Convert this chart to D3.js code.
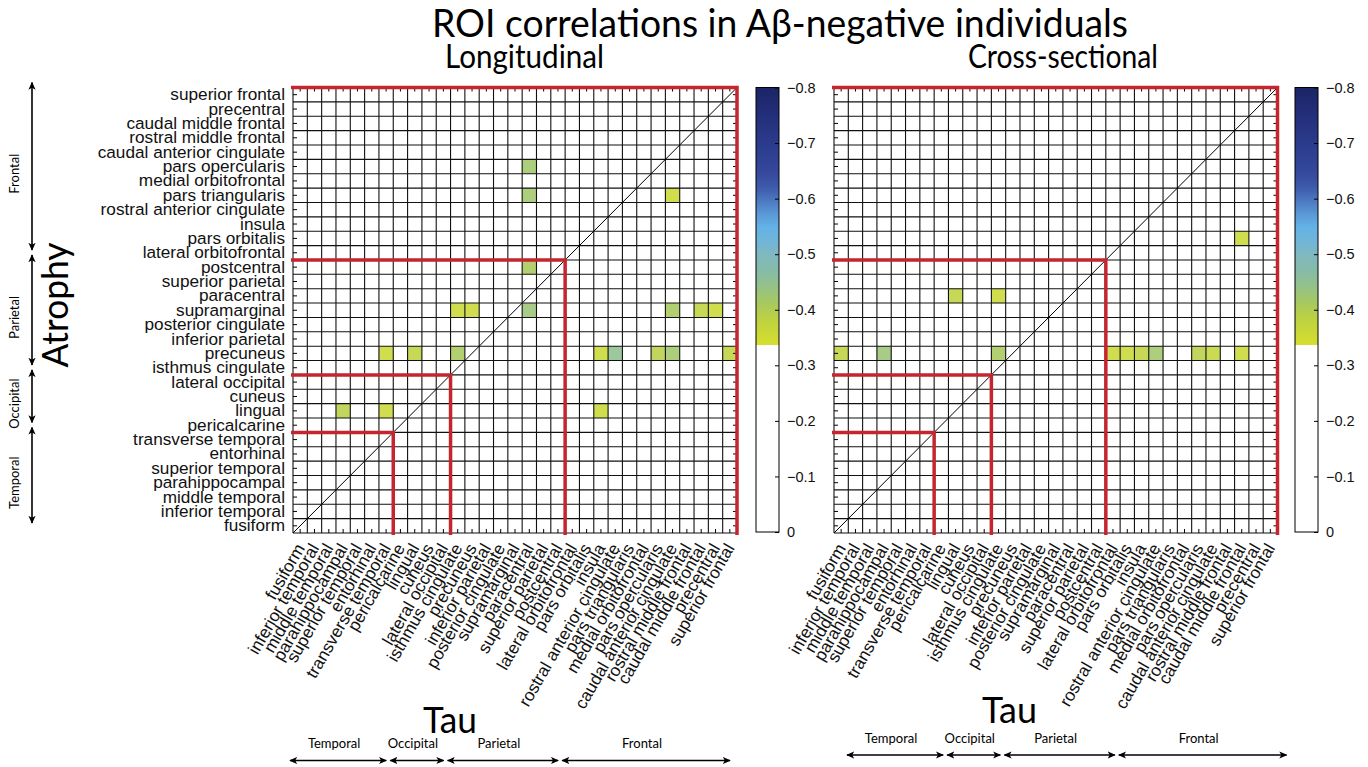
<!DOCTYPE html>
<html><head><meta charset="utf-8">
<script src="https://cdn.jsdelivr.net/npm/d3@7"></script>
<style>body{margin:0;background:#fff} svg{display:block}</style>
</head><body><svg id="c" width="1368" height="767"></svg>
<script>
// ---------------- DATA ----------------
const atrophyRows = ["superior frontal","precentral","caudal middle frontal","rostral middle frontal","caudal anterior cingulate","pars opercularis","medial orbitofrontal","pars triangularis","rostral anterior cingulate","insula","pars orbitalis","lateral orbitofrontal","postcentral","superior parietal","paracentral","supramarginal","posterior cingulate","inferior parietal","precuneus","isthmus cingulate","lateral occipital","cuneus","lingual","pericalcarine","transverse temporal","entorhinal","superior temporal","parahippocampal","middle temporal","inferior temporal","fusiform"];
const tauCols = atrophyRows.slice().reverse();
const lobes = ["Frontal","Parietal","Occipital","Temporal"];
const lobeSizes = [12,8,4,7];
// [atrophy row, tau column, correlation]
const longitudinal = [
  ["pars opercularis","paracentral",-0.42],
  ["pars triangularis","paracentral",-0.42],
  ["pars triangularis","caudal anterior cingulate",-0.36],
  ["postcentral","paracentral",-0.41],
  ["supramarginal","isthmus cingulate",-0.36],
  ["supramarginal","precuneus",-0.36],
  ["supramarginal","paracentral",-0.43],
  ["supramarginal","caudal anterior cingulate",-0.41],
  ["supramarginal","caudal middle frontal",-0.38],
  ["supramarginal","precentral",-0.36],
  ["precuneus","transverse temporal",-0.36],
  ["precuneus","lingual",-0.38],
  ["precuneus","isthmus cingulate",-0.41],
  ["precuneus","insula",-0.36],
  ["precuneus","rostral anterior cingulate",-0.45],
  ["precuneus","pars opercularis",-0.39],
  ["precuneus","caudal anterior cingulate",-0.42],
  ["precuneus","superior frontal",-0.38],
  ["lingual","parahippocampal",-0.39],
  ["lingual","transverse temporal",-0.36],
  ["lingual","insula",-0.36]
];
const crossSectional = [
  ["pars orbitalis","caudal middle frontal",-0.36],
  ["paracentral","lingual",-0.38],
  ["paracentral","isthmus cingulate",-0.36],
  ["precuneus","fusiform",-0.38],
  ["precuneus","parahippocampal",-0.43],
  ["precuneus","isthmus cingulate",-0.41],
  ["precuneus","lateral orbitofrontal",-0.36],
  ["precuneus","pars orbitalis",-0.36],
  ["precuneus","insula",-0.38],
  ["precuneus","rostral anterior cingulate",-0.42],
  ["precuneus","pars opercularis",-0.39],
  ["precuneus","caudal anterior cingulate",-0.37],
  ["precuneus","caudal middle frontal",-0.36]
];
const cbTicks = [-0.8,-0.7,-0.6,-0.5,-0.4,-0.3,-0.2,-0.1,0];
const cbThreshold = -0.337;
const cmapValues = [-0.8,-0.75,-0.7,-0.65,-0.62,-0.6,-0.57,-0.55,-0.52,-0.5,-0.47,-0.44,-0.41,-0.38,-0.337];
const cmapColors = ["#1b2466","#232f7a","#2b3b8c","#34479b","#3e5aab","#4a74be","#5c9bd8","#63b1e6","#72b6d6","#7fb8c0","#86bba8","#95c286","#a9c95c","#bfd23f","#d6df2e"];

// ---------------- DRAW ----------------
const svg = d3.select("#c");
const Y0 = 87.5, Y1 = 533;
const cmap = d3.scaleLinear().domain(cmapValues).range(cmapColors).interpolate(d3.interpolateRgb).clamp(true);
const color = v => v > cbThreshold ? "#ffffff" : cmap(v);
const RED = "#c3262e";
const myriad = "Lato, 'Open Sans', sans-serif";
const helv = "'Liberation Sans', Arial, sans-serif";
const LBL = 17.2;

const defs = svg.append("defs");
defs.append("marker").attr("id","ah").attr("viewBox","0 0 10 10").attr("refX",9).attr("refY",5)
  .attr("markerUnits","userSpaceOnUse").attr("markerWidth",8).attr("markerHeight",8)
  .attr("orient","auto-start-reverse")
  .append("path").attr("d","M0,0.5 L10,5 L0,9.5 L2.5,5 Z").attr("fill","#000");

function fitText(sel, x0, x1){ sel.attr("textLength", x1-x0).attr("lengthAdjust","spacingAndGlyphs"); }

// title
svg.append("text").attr("x",432).attr("y",37).attr("font-family",myriad).attr("font-size",38)
  .text("ROI correlations in Aβ-negative individuals").call(fitText,432,1128);

const panels = [
  {title:"Longitudinal", data:longitudinal, x0:293, x1:737, showY:true, cb:756, titleX:[445,604],
   tauX:[423,477], tauY:733, shift:-5, arrowY:760.5, labelY:747.5},
  {title:"Cross-sectional", data:crossSectional, x0:834, x1:1277.5, showY:false, cb:1295, titleX:[968,1158],
   tauX:[982,1037], tauY:723, shift:11, arrowY:755, labelY:742.5}
];

// lobe boundaries (cumulative counts from top)
const lobeStart = []; lobeSizes.reduce((a,n,i)=>{lobeStart[i]=a; return a+n;},0);

panels.forEach(p=>{
  const g = svg.append("g");
  const x = d3.scaleBand().domain(tauCols).range([p.x0,p.x1]);
  const y = d3.scaleBand().domain(atrophyRows).range([Y0,Y1]);
  const bw = x.bandwidth(), bh = y.bandwidth();
  const N = tauCols.length;

  // cells
  g.append("g").selectAll("rect").data(p.data).join("rect")
    .attr("x", d=>x(d[1])).attr("y", d=>y(d[0])).attr("width",bw).attr("height",bh)
    .attr("fill", d=>color(d[2])).attr("fill-opacity",0.88);

  // grid
  const gx = d3.range(N+1).map(i => i<N ? x(tauCols[i]) : p.x1);
  const gy = d3.range(N+1).map(i => i<N ? y(atrophyRows[i]) : Y1);
  g.append("g").selectAll("line.v").data(gx).join("line")
    .attr("x1",d=>d).attr("x2",d=>d).attr("y1",Y0).attr("y2",Y1).attr("stroke","#111").attr("stroke-width",1.1);
  g.append("g").selectAll("line.h").data(gy).join("line")
    .attr("y1",d=>d).attr("y2",d=>d).attr("x1",p.x0).attr("x2",p.x1).attr("stroke","#111").attr("stroke-width",1.1);

  // inward ticks
  const axL = d3.axisLeft(y).tickSize(-4).tickPadding(8);
  if(!p.showY) axL.tickFormat("");
  const gl = g.append("g").attr("transform",`translate(${p.x0},0)`).call(axL);
  gl.select(".domain").remove();
  gl.selectAll("text").attr("font-family",helv).attr("font-size",LBL).attr("fill","#111");
  const gr = g.append("g").attr("transform",`translate(${p.x1},0)`).call(d3.axisRight(y).tickSize(-4).tickFormat(""));
  gr.select(".domain").remove();
  const gt = g.append("g").attr("transform",`translate(0,${Y0})`).call(d3.axisTop(x).tickSize(-4).tickFormat(""));
  gt.select(".domain").remove();
  const gb = g.append("g").attr("transform",`translate(0,${Y1})`).call(d3.axisBottom(x).tickSize(-4).tickFormat(""));
  gb.select(".domain").remove();

  // diagonal
  g.append("line").attr("x1",p.x0).attr("y1",Y1).attr("x2",p.x1).attr("y2",Y0).attr("stroke","#000").attr("stroke-width",1);

  // red lobe boundaries
  lobeStart.forEach(s=>{
    const yy = s===0 ? Y0 : y(atrophyRows[s]);
    const colEnd = N - s;
    const xx = colEnd===N ? p.x1 : x(tauCols[colEnd]);
    g.append("path").attr("d",`M${p.x0-2},${yy}H${xx}V${Y1+2}`)
      .attr("fill","none").attr("stroke",RED).attr("stroke-width",3.5);
  });

  // x labels
  g.append("g").selectAll("text").data(tauCols).join("text")
    .attr("transform", d=>`translate(${x(d)+bw/2},${Y1+12}) rotate(-60)`)
    .attr("text-anchor","end").attr("dy","0.35em")
    .attr("font-family",helv).attr("font-size",LBL).attr("fill","#111").text(d=>d);

  // subtitle
  svg.append("text").attr("x",p.titleX[0]).attr("y",68).attr("font-family",myriad).attr("font-size",32)
    .text(p.title).call(fitText,p.titleX[0],p.titleX[1]);

  // Tau
  svg.append("text").attr("x",p.tauX[0]).attr("y",p.tauY).attr("font-family",myriad).attr("font-size",37)
    .text("Tau").call(fitText,p.tauX[0],p.tauX[1]);

  // bottom lobe arrows (column order is reversed lobes)
  const colLobes = lobes.slice().reverse(), colSizes = lobeSizes.slice().reverse();
  let c = 0;
  colLobes.forEach((name,i)=>{
    const a = x(tauCols[c]); c += colSizes[i];
    const b = c<N ? x(tauCols[c]) : p.x1;
    const xa = a + p.shift + 2, xb = b + p.shift - 2;
    g.append("line").attr("x1",xa).attr("x2",xb).attr("y1",p.arrowY).attr("y2",p.arrowY)
      .attr("stroke","#000").attr("stroke-width",1.6)
      .attr("marker-start","url(#ah)").attr("marker-end","url(#ah)");
    g.append("text").attr("x",(xa+xb)/2 - 4).attr("y",p.labelY).attr("text-anchor","middle")
      .attr("font-family",myriad).attr("font-size",13).text(name);
  });

  // colorbar
  const cbW = 23;
  const cy = d3.scaleLinear().domain([-0.8,0]).range([Y0,Y1-1]);
  const cbg = svg.append("g");
  const pix = d3.range(Math.floor(cy(-0.8)), Math.ceil(cy(0)));
  cbg.selectAll("rect").data(pix).join("rect")
    .attr("x",p.cb).attr("y",d=>d).attr("width",cbW).attr("height",1.2)
    .attr("fill",d=>color(cy.invert(d+0.5)));
  cbg.append("rect").attr("x",p.cb).attr("y",cy(-0.8)).attr("width",cbW).attr("height",cy(0)-cy(-0.8))
    .attr("fill","none").attr("stroke","#000").attr("stroke-width",1);
  const cax = d3.axisRight(cy).tickValues(cbTicks).tickSize(-4).tickPadding(8)
    .tickFormat(d=> d===0 ? "0" : d3.format(".1f")(d));
  const cg = cbg.append("g").attr("transform",`translate(${p.cb+cbW},0)`).call(cax);
  cg.select(".domain").remove();
  cg.selectAll("text").attr("font-family",helv).attr("font-size",14.5).attr("fill","#111");
});

// Atrophy label + left lobe arrows
svg.append("text").attr("transform","translate(68,305) rotate(-90)").attr("text-anchor","middle")
  .attr("font-family",myriad).attr("font-size",37).attr("textLength",125).attr("lengthAdjust","spacingAndGlyphs")
  .text("Atrophy");
{
  const y = d3.scaleBand().domain(atrophyRows).range([Y0,Y1]);
  lobes.forEach((name,i)=>{
    const s = lobeStart[i], e = s + lobeSizes[i];
    const ya = y(atrophyRows[s]) - 5, yb = (e<atrophyRows.length ? y(atrophyRows[e]) : Y1) - 10;
    svg.append("line").attr("x1",32).attr("x2",32).attr("y1",ya).attr("y2",yb)
      .attr("stroke","#000").attr("stroke-width",1.6)
      .attr("marker-start","url(#ah)").attr("marker-end","url(#ah)");
    const mid = (y(atrophyRows[s]) + (e<atrophyRows.length ? y(atrophyRows[e]) : Y1))/2;
    svg.append("text").attr("transform",`translate(19,${mid}) rotate(-90)`).attr("text-anchor","middle")
      .attr("font-family",myriad).attr("font-size",13).text(name);
  });
}
</script></body></html>
